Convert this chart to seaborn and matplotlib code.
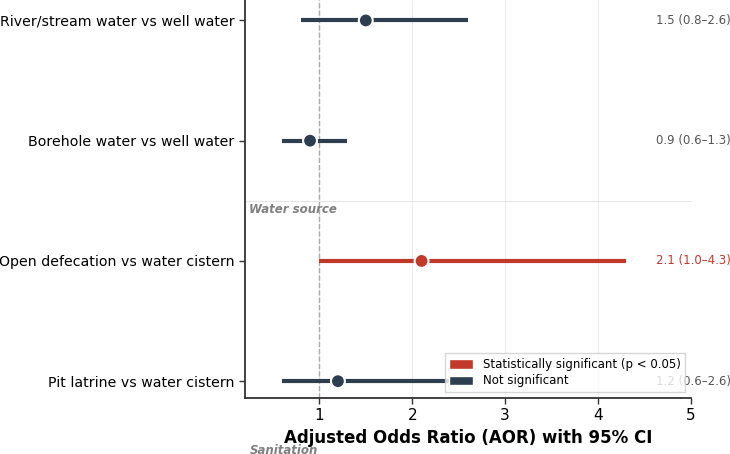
import numpy as np
import pandas as pd
import matplotlib
matplotlib.use("Agg")
import matplotlib.pyplot as plt
import matplotlib.transforms as mtransforms
from matplotlib.patches import Patch
import seaborn as sns

# 数据
labels = ["River/stream water vs well water", "Borehole water vs well water",
          "Open defecation vs water cistern", "Pit latrine vs water cistern"]
aor = [1.5, 0.9, 2.1, 1.2]
lower = [0.8, 0.6, 1.0, 0.6]
upper = [2.6, 1.3, 4.3, 2.6]
significant = [False, False, True, False]
groups = ["Water source", "Sanitation"]
group_size = [2, 2]
xticks = [1, 2, 3, 4, 5]

RED = "#c0392b"
NAVY = "#2c3e50"

df = pd.DataFrame({"label": labels, "aor": aor, "lower": lower, "upper": upper,
                   "sig": significant})
df["pos"] = np.arange(len(df))
df["color"] = np.where(df["sig"], RED, NAVY)

sns.set_style("white")
plt.rcParams['font.family'] = ['DejaVu Sans']
plt.rcParams['text.color'] = 'black'
plt.rcParams['axes.labelcolor'] = 'black'
plt.rcParams['xtick.color'] = 'black'
plt.rcParams['ytick.color'] = 'black'

fig = plt.figure(figsize=(7.3, 4.54), dpi=100)
ax = fig.add_axes([0.3356, 0.1233, 0.611, 0.8767])

# 网格线
for xv in xticks:
    ax.axvline(xv, color="#ececec", lw=0.8, zorder=0)
ax.axvline(1, color="#aaaaaa", lw=1, ls="--", zorder=1)

# 置信区间
ax.hlines(df["pos"], df["lower"], df["upper"], colors=df["color"], lw=3, zorder=2)

# 点估计
sns.scatterplot(data=df, x="aor", y="pos", hue="sig", palette={True: RED, False: NAVY},
                s=100, edgecolor="white", linewidth=1.5, zorder=3, legend=False, ax=ax)

# 数值标注
for _, r in df.iterrows():
    ax.text(4.62, r["pos"], f"{r['aor']:.1f} ({r['lower']:.1f}–{r['upper']:.1f})",
            ha="left", va="center", fontsize=8.5,
            color=RED if r["sig"] else "#555555", zorder=1)

# 分组分隔线和标签
trans = mtransforms.blended_transform_factory(ax.transAxes, ax.transData)
start = 0
for g, n in zip(groups, group_size):
    sep = start + n - 0.5
    ax.axhline(sep, color="#e5e5e5", lw=0.8, zorder=0)
    ax.text(0.01, sep + 0.02, g, transform=trans, ha="left", va="top",
            fontsize=8.5, fontstyle="italic", fontweight="bold", color="#808080",
            clip_on=False)
    start += n

ax.set_xlim(0.2, 5)
ax.set_ylim(3.14, -0.17)
ax.set_xticks(xticks)
ax.set_yticks(df["pos"])
ax.set_yticklabels(df["label"], fontsize=10.2)
ax.tick_params(axis="x", labelsize=11)
ax.tick_params(axis="both", length=4, width=1, color="#333333", left=True, bottom=True)
ax.set_xlabel("Adjusted Odds Ratio (AOR) with 95% CI", fontsize=12, fontweight="bold")
ax.set_ylabel("")

for side in ["top", "right"]:
    ax.spines[side].set_visible(False)
for side in ["left", "bottom"]:
    ax.spines[side].set_color("#333333")
    ax.spines[side].set_linewidth(1.3)

handles = [Patch(facecolor=RED, label="Statistically significant (p < 0.05)"),
           Patch(facecolor=NAVY, label="Not significant")]
ax.legend(handles=handles, loc="lower right", fontsize=8.5, framealpha=0.8,
          fancybox=False, edgecolor="#cccccc", handleheight=0.85, labelspacing=0.28)

fig.savefig("out.png", dpi=100)
